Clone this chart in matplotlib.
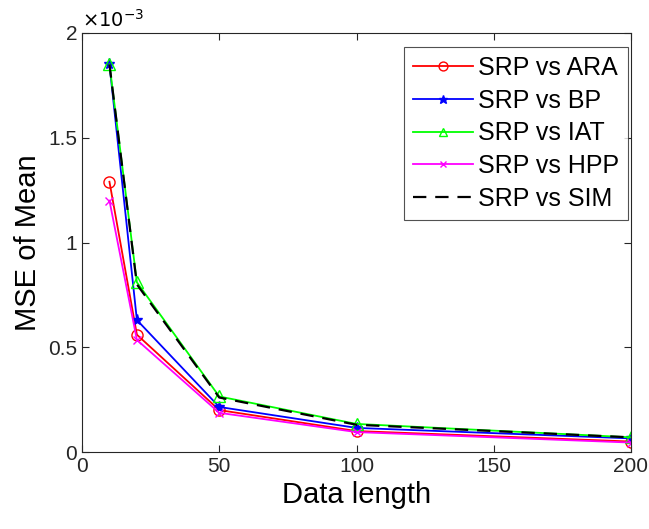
import matplotlib
matplotlib.use("Agg")
import matplotlib.pyplot as plt

plt.rcParams['font.family'] = ['Liberation Sans', 'DejaVu Sans']

x = [10, 20, 50, 100, 200]
ara = [1.29e-3, 0.56e-3, 0.20e-3, 0.100e-3, 0.050e-3]
bp = [1.85e-3, 0.63e-3, 0.215e-3, 0.115e-3, 0.065e-3]
iat = [1.85e-3, 0.81e-3, 0.265e-3, 0.134e-3, 0.070e-3]
hpp = [1.20e-3, 0.535e-3, 0.187e-3, 0.095e-3, 0.045e-3]
sim = [1.85e-3, 0.80e-3, 0.26e-3, 0.13e-3, 0.070e-3]
labels = ['SRP vs ARA', 'SRP vs BP', 'SRP vs IAT', 'SRP vs HPP', 'SRP vs SIM']

fig = plt.figure(figsize=(6.49, 5.29), dpi=100)
ax = fig.add_axes([82/649, 1-452/529, (631-82)/649, (452-33)/529])

ax.plot(x, ara, color='#ff0000', marker='o', mfc='none', ms=8, lw=1.3, label=labels[0])
ax.plot(x, bp, color='#0000ff', marker='*', ms=8, lw=1.3, label=labels[1])
ax.plot(x, iat, color='#00ff00', marker='^', mfc='none', ms=8, lw=1.3, label=labels[2])
ax.plot(x, hpp, color='#ff00ff', marker='x', ms=6, lw=1.3, label=labels[3])
ax.plot(x, sim, color='black', ls=(0, (6, 4)), lw=1.6, label=labels[4])

ax.set_xlim(0, 200)
ax.set_ylim(0, 2e-3)
ax.set_xticks([0, 50, 100, 150, 200])
ax.set_yticks([0, 0.5e-3, 1e-3, 1.5e-3, 2e-3])
ax.set_yticklabels(['0', '0.5', '1', '1.5', '2'])
ax.tick_params(direction='in', labelsize=15, top=True, right=True, length=5, colors='#262626')
for s in ax.spines.values():
    s.set_color('#262626')
    s.set_linewidth(0.8)
ax.set_xlabel('Data length', fontsize=21)
ax.set_ylabel('MSE of Mean', fontsize=21)
ax.text(0, 1.005, r'$\times10^{-3}$', transform=ax.transAxes, fontsize=14, va='bottom', ha='left')

leg = ax.legend(loc='upper right', bbox_to_anchor=(628/649, 1-47/529), bbox_transform=fig.transFigure,
                fontsize=18, frameon=True, fancybox=False, markerscale=0.8,
                edgecolor='#262626', handlelength=2.4, borderaxespad=0,
                labelspacing=0.35, handletextpad=0.2, borderpad=0.35)
leg.get_frame().set_linewidth(0.8)

fig.savefig('out.png', dpi=100)
